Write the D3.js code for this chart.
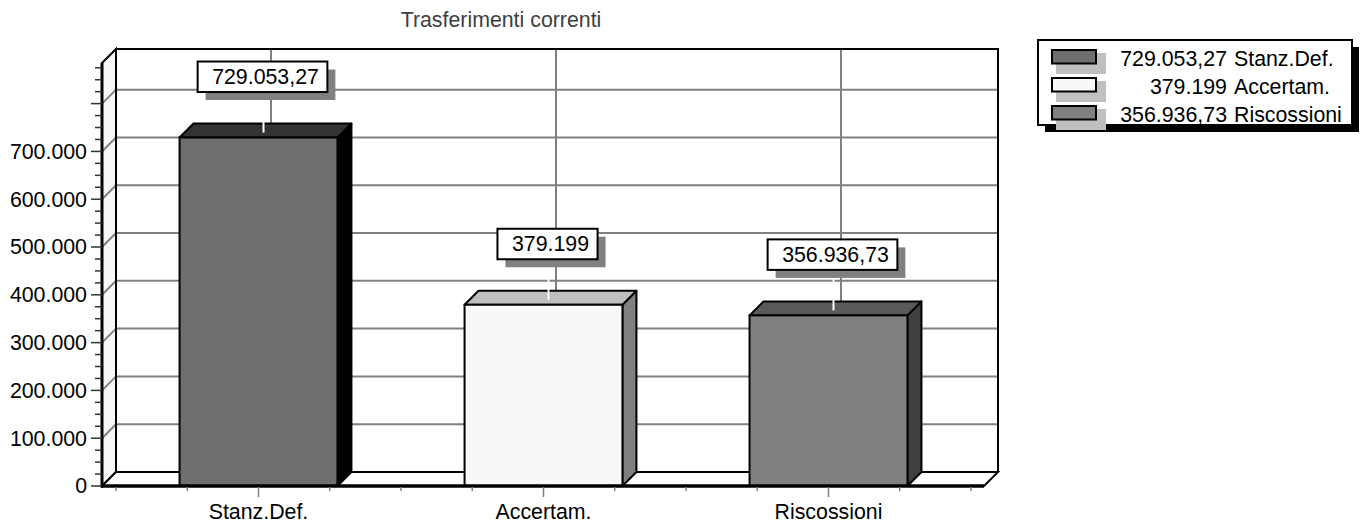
<!DOCTYPE html>
<html><head><meta charset="utf-8">
<script src="https://cdn.jsdelivr.net/npm/d3@7"></script>
<style>
html,body{margin:0;padding:0;background:#fff;}
svg{display:block;font-family:"Liberation Sans",Arial,sans-serif;}
</style></head>
<body><svg id="c" width="1366" height="523"></svg>
<script>
const title = "Trasferimenti correnti";
const categories = ["Stanz.Def.", "Accertam.", "Riscossioni"];
const values = [729053.27, 379199, 356936.73];
const yLabelTicks = [0, 100000, 200000, 300000, 400000, 500000, 600000, 700000];
const gridTicks = [100000, 200000, 300000, 400000, 500000, 600000, 700000, 800000];
const frontColors = ["#6e6e6e", "#f8f8f8", "#808080"];
const topColors = ["#333333", "#bfbfbf", "#5a5a5a"];
const sideColors = ["#000000", "#808080", "#404040"];

const it = d3.formatLocale({decimal: ",", thousands: ".", grouping: [3], currency: ["€", ""]});
const fmtInt = it.format(",d");
const fmtDec = it.format(",.2f");
const fmtVal = v => Number.isInteger(v) ? fmtInt(v) : fmtDec(v);

const svg = d3.select("#c");
const FS = "21.33px";
const D = 14; // depth
const frontLeft = 102, frontRight = 984;
const y = d3.scaleLinear().domain([0, 885000]).range([486, 63]);
const x = d3.scaleBand().domain(categories).range([116, 971]).padding(0);
const barW = x.bandwidth() * 0.554;
const y0 = y(0), yTop = y.range()[1];
const cxOf = c => x(c) + x.bandwidth() / 2;

// title
svg.append("text").attr("x", 501).attr("y", 27).attr("text-anchor", "middle")
  .attr("font-size", FS).attr("fill", "#404040").text(title);

// back wall
svg.append("rect").attr("x", frontLeft + D).attr("y", yTop - D)
  .attr("width", frontRight - frontLeft).attr("height", y0 - yTop).attr("fill", "#fff");
// horizontal gridlines on back wall
svg.append("g").selectAll("line").data(gridTicks).join("line")
  .attr("x1", frontLeft + D).attr("x2", frontRight + D)
  .attr("y1", d => y(d) - D).attr("y2", d => y(d) - D)
  .attr("stroke", "#808080").attr("stroke-width", 2);
// vertical gridlines on back wall
svg.append("g").selectAll("line").data(categories).join("line")
  .attr("x1", d => cxOf(d) + 12.5).attr("x2", d => cxOf(d) + 12.5)
  .attr("y1", yTop - D).attr("y2", y0 - D)
  .attr("stroke", "#808080").attr("stroke-width", 2);
// side wall
svg.append("path").attr("d", `M${frontLeft},${yTop}L${frontLeft + D},${yTop - D}L${frontLeft + D},${y0 - D}L${frontLeft},${y0}Z`)
  .attr("fill", "#f7f7f7").attr("stroke", "#000").attr("stroke-width", 2);
svg.append("g").selectAll("line").data(gridTicks).join("line")
  .attr("x1", frontLeft).attr("x2", frontLeft + D)
  .attr("y1", d => y(d)).attr("y2", d => y(d) - D)
  .attr("stroke", "#808080").attr("stroke-width", 2);
// floor
svg.append("path").attr("d", `M${frontLeft},${y0}L${frontLeft + D},${y0 - D}L${frontRight + D},${y0 - D}L${frontRight},${y0}Z`)
  .attr("fill", "#fff").attr("stroke", "#000").attr("stroke-width", 2);
// back wall frame top and right
svg.append("path").attr("d", `M${frontLeft + D},${y0 - D}L${frontLeft + D},${yTop - D}L${frontRight + D},${yTop - D}L${frontRight + D},${y0 - D}`)
  .attr("fill", "none").attr("stroke", "#000").attr("stroke-width", 2);

// bars
const bars = svg.append("g").selectAll("g").data(values).join("g");
bars.each(function (v, i) {
  const g = d3.select(this);
  const cx = cxOf(categories[i]);
  const x0 = cx - barW / 2, x1 = cx + barW / 2, yt = y(v);
  g.append("path").attr("d", `M${x1},${y0}L${x1},${yt}L${x1 + D},${yt - D}L${x1 + D},${y0 - D}Z`)
    .attr("fill", sideColors[i]).attr("stroke", "#000").attr("stroke-width", 2).attr("stroke-linejoin", "round");
  g.append("path").attr("d", `M${x0},${yt}L${x0 + D},${yt - D}L${x1 + D},${yt - D}L${x1},${yt}Z`)
    .attr("fill", topColors[i]).attr("stroke", "#000").attr("stroke-width", 2).attr("stroke-linejoin", "round");
  g.append("rect").attr("x", x0).attr("y", yt).attr("width", barW).attr("height", y0 - yt)
    .attr("fill", frontColors[i]).attr("stroke", "#000").attr("stroke-width", 2);
});

// front axes
svg.append("line").attr("x1", frontLeft).attr("x2", frontLeft).attr("y1", yTop).attr("y2", y0 + 1.5)
  .attr("stroke", "#000").attr("stroke-width", 3);
svg.append("line").attr("x1", frontLeft).attr("x2", frontRight).attr("y1", y0).attr("y2", y0)
  .attr("stroke", "#000").attr("stroke-width", 3.5);

// y ticks
const minorTicks = d3.range(0, 885000, 25000);
svg.append("g").selectAll("line").data(minorTicks).join("line")
  .attr("x1", d => d % 100000 === 0 ? frontLeft - 11 : frontLeft - 7).attr("x2", frontLeft)
  .attr("y1", d => y(d)).attr("y2", d => y(d))
  .attr("stroke", "#333").attr("stroke-width", 1.5);
svg.append("g").selectAll("text").data(yLabelTicks).join("text")
  .attr("x", frontLeft - 15).attr("y", d => y(d)).attr("dy", "0.35em")
  .attr("text-anchor", "end").attr("font-size", FS).attr("fill", "#000")
  .text(d => fmtInt(d));

// x ticks
const xTicks = d3.range(0, categories.length * 4 + 1).map(k => x.range()[0] + k * x.step() / 4);
svg.append("g").selectAll("line").data(xTicks).join("line")
  .attr("x1", d => d).attr("x2", d => d)
  .attr("y1", y0 + 1).attr("y2", (d, k) => y0 + (k % 4 === 2 ? 11 : 5))
  .attr("stroke", "#808080").attr("stroke-width", 1.5);
svg.append("g").selectAll("text").data(categories).join("text")
  .attr("x", d => cxOf(d)).attr("y", 519)
  .attr("text-anchor", "middle").attr("font-size", FS).attr("fill", "#000").text(d => d);

// value labels
const lab = svg.append("g").selectAll("g").data(values).join("g");
lab.each(function (v, i) {
  const g = d3.select(this);
  const cx = cxOf(categories[i]) + 4;
  const yt = y(v);
  const boxBottom = yt - 45.5, boxH = 30.5, boxTop = boxBottom - boxH;
  g.append("line").attr("x1", cx + 1).attr("x2", cx + 1).attr("y1", boxBottom).attr("y2", yt - 5)
    .attr("stroke", "#fff").attr("stroke-width", 2);
  const t = g.append("text").attr("font-size", FS).attr("text-anchor", "middle")
    .attr("x", cx + 3).attr("y", boxTop + 22.5).text(fmtVal(v));
  const w = t.node().getComputedTextLength() + 23;
  g.insert("rect", "text").attr("x", cx - w / 2 + 8).attr("y", boxTop + 8).attr("width", w).attr("height", boxH)
    .attr("fill", "#808080");
  g.insert("rect", "text").attr("x", cx - w / 2).attr("y", boxTop).attr("width", w).attr("height", boxH)
    .attr("fill", "#fff").attr("stroke", "#000").attr("stroke-width", 2);
});

// legend
const lg = svg.append("g");
const LX = 1038, LY = 40, LW = 314, LH = 85;
lg.append("rect").attr("x", LX + 7).attr("y", LY + 7).attr("width", LW).attr("height", LH).attr("fill", "#000");
lg.append("rect").attr("x", LX).attr("y", LY).attr("width", LW).attr("height", LH)
  .attr("fill", "#fff").attr("stroke", "#000").attr("stroke-width", 2);
values.forEach((v, i) => {
  const sy = LY + 10 + i * 28;
  lg.append("rect").attr("x", LX + 18).attr("y", sy + 3).attr("width", 50).attr("height", 21).attr("fill", "#c0c0c0");
  lg.append("rect").attr("x", LX + 14).attr("y", sy).attr("width", 44).attr("height", 13.5)
    .attr("fill", frontColors[i]).attr("stroke", "#000").attr("stroke-width", 2);
  lg.append("text").attr("x", LX + 189).attr("y", sy + 15.5).attr("text-anchor", "end")
    .attr("font-size", FS).text(fmtVal(v));
  lg.append("text").attr("x", LX + 196).attr("y", sy + 15.5).attr("text-anchor", "start")
    .attr("font-size", FS).text(categories[i]);
});
</script></body></html>
